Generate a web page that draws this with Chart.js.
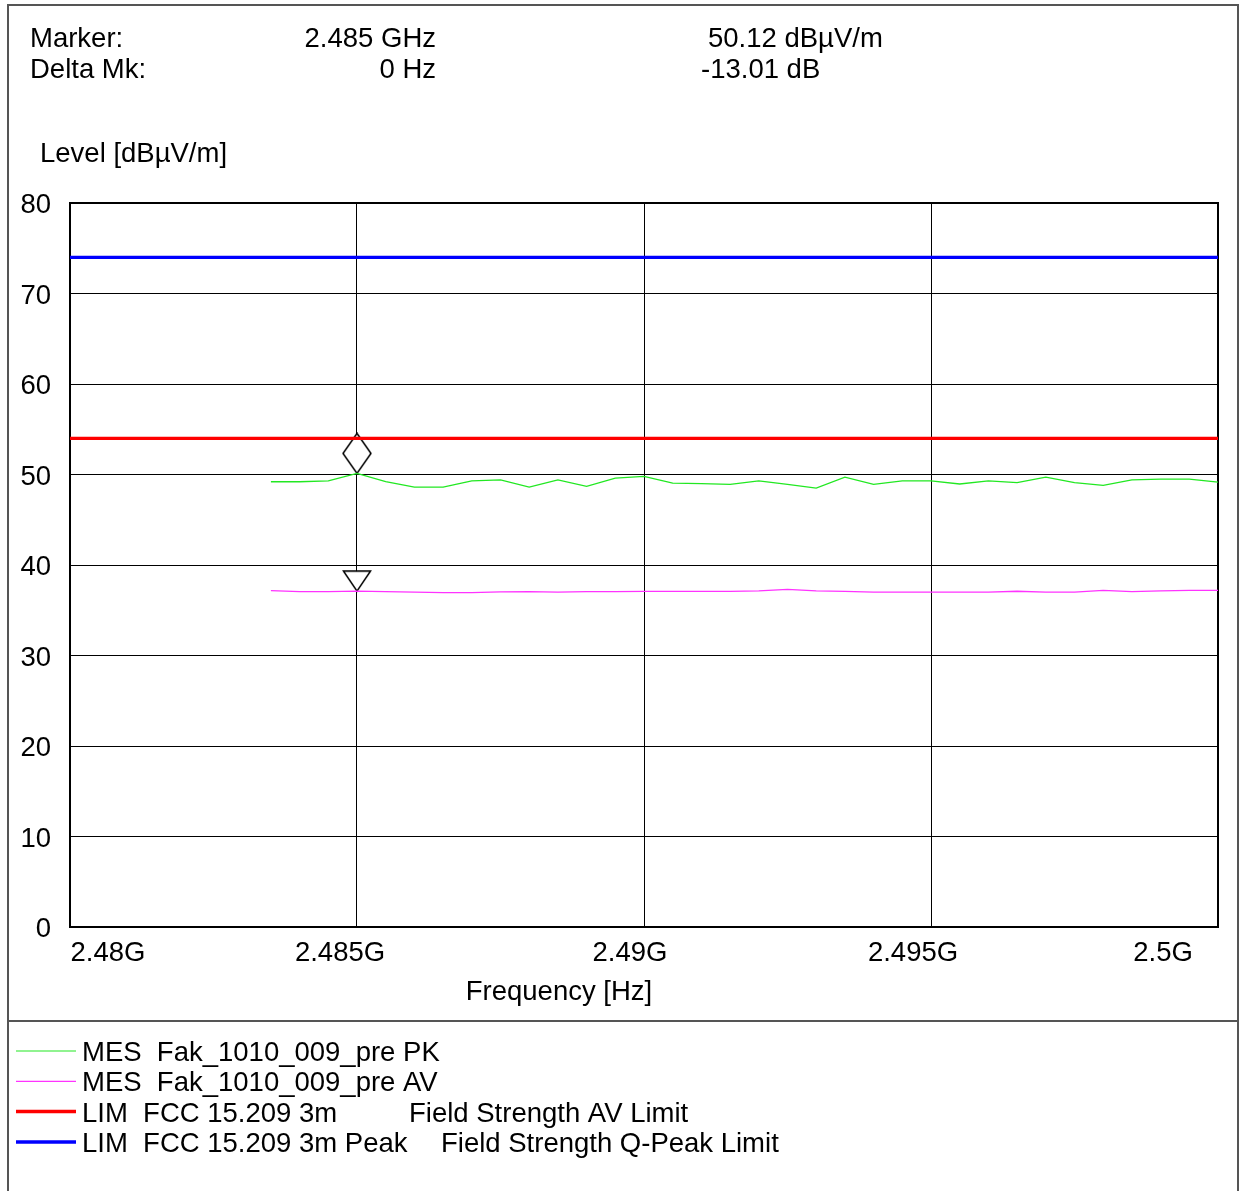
<!DOCTYPE html>
<html>
<head>
<meta charset="utf-8">
<script src="https://cdn.jsdelivr.net/npm/chart.js@4/dist/chart.umd.min.js"></script>
<style>
  html, body { margin: 0; padding: 0; background: #fff; }
  canvas { display: block; }
</style>
</head>
<body>
<canvas id="emc" width="1242" height="1191"></canvas>
<script>
// frequency points of the sweep (GHz)
const freqGHz = [2.4835, 2.484, 2.4845, 2.485, 2.4855, 2.486, 2.4865, 2.487, 2.4875, 2.488,
  2.4885, 2.489, 2.4895, 2.49, 2.4905, 2.491, 2.4915, 2.492, 2.4925, 2.493, 2.4935, 2.494,
  2.4945, 2.495, 2.4955, 2.496, 2.4965, 2.497, 2.4975, 2.498, 2.4985, 2.499, 2.4995, 2.5];
// MES peak trace (dBuV/m)
const pkLevel = [49.2, 49.2, 49.3, 50.12, 49.2, 48.6, 48.6, 49.3, 49.4, 48.6,
  49.4, 48.7, 49.6, 49.8, 49.05, 49.0, 48.9, 49.3, 48.9, 48.5, 49.7, 48.9,
  49.3, 49.3, 48.95, 49.3, 49.1, 49.7, 49.1, 48.8, 49.4, 49.5, 49.5, 49.15];
// MES average trace (dBuV/m)
const avLevel = [37.16, 37.05, 37.05, 37.11, 37.05, 37.0, 36.95, 36.95, 37.02, 37.06,
  37.0, 37.05, 37.05, 37.08, 37.08, 37.08, 37.08, 37.15, 37.3, 37.15, 37.08, 37.0,
  37.0, 37.0, 37.0, 37.0, 37.1, 37.0, 37.0, 37.2, 37.05, 37.15, 37.2, 37.2];

const limitFreq = [2.48, 2.5];
const avLimit = [54, 54];
const peakLimit = [74, 74];

const markerFreq = [2.485];
const markerPk = [50.12];
const markerAv = [37.11];

const xTicks = [2.48, 2.485, 2.49, 2.495, 2.5];
const xTickLabels = ['2.48G', '2.485G', '2.49G', '2.495G', '2.5G'];

const FONT = '"Liberation Sans", Arial, sans-serif';
const FS = 27.5;

const pts = (xs, ys) => xs.map((x, i) => ({ x, y: ys[i] }));

// marker glyphs: tip of the shape sits on the data point
function diamondGlyph() {
  const c = document.createElement('canvas');
  c.width = 30; c.height = 82;
  const g = c.getContext('2d');
  g.beginPath();
  g.moveTo(15, 1); g.lineTo(29, 21); g.lineTo(15, 41); g.lineTo(1, 21); g.closePath();
  g.fillStyle = '#fff'; g.fill();
  g.lineWidth = 1.5; g.strokeStyle = '#000'; g.stroke();
  return c;
}
function triangleGlyph() {
  const c = document.createElement('canvas');
  c.width = 30; c.height = 42;
  const g = c.getContext('2d');
  g.beginPath();
  g.moveTo(1.5, 1); g.lineTo(28.5, 1); g.lineTo(15, 21); g.closePath();
  g.fillStyle = '#fff'; g.fill();
  g.lineWidth = 1.5; g.strokeStyle = '#000'; g.stroke();
  return c;
}

const framePlugin = {
  id: 'frame',
  beforeDatasetsDraw(chart) {
    const { ctx, chartArea: a } = chart;
    ctx.save();
    ctx.strokeStyle = '#000';
    ctx.lineWidth = 2;
    ctx.strokeRect(a.left, a.top, a.right - a.left, a.bottom - a.top);
    ctx.restore();
  },
  afterDraw(chart) {
    const { ctx } = chart;
    const xs = chart.scales.x;
    ctx.save();
    // outer page frame
    ctx.strokeStyle = '#555';
    ctx.lineWidth = 2;
    ctx.beginPath();
    ctx.moveTo(8, 1191); ctx.lineTo(8, 5); ctx.lineTo(1238, 5); ctx.lineTo(1238, 1191);
    ctx.moveTo(8, 1021); ctx.lineTo(1238, 1021);
    ctx.stroke();

    ctx.fillStyle = '#000';
    ctx.font = FS + 'px ' + FONT;
    ctx.textBaseline = 'middle';

    // header
    ctx.textAlign = 'left';
    ctx.fillText('Marker:', 30, 39);
    ctx.fillText('Delta Mk:', 30, 70);
    ctx.fillText('50.12 dBµV/m', 708, 39);
    ctx.fillText('-13.01 dB', 701, 70);
    ctx.textAlign = 'right';
    ctx.fillText('2.485 GHz', 436, 39);
    ctx.fillText('0 Hz', 436, 70);

    // axis titles
    ctx.textAlign = 'left';
    ctx.fillText('Level [dBµV/m]', 40, 154);
    ctx.textAlign = 'center';
    ctx.fillText('Frequency [Hz]', 559, 992);

    // x tick labels (instrument style: edge labels pulled inward)
    const shift = [38, -17, -14, -18, -55];
    xTicks.forEach((v, i) => {
      ctx.fillText(xTickLabels[i], xs.getPixelForValue(v) + shift[i], 953);
    });

    // legend
    const rows = [
      { color: '#22e822', w: 1.2, parts: [['MES  Fak_1010_009_pre PK', 82]] },
      { color: '#ff33ff', w: 1.2, parts: [['MES  Fak_1010_009_pre AV', 82]] },
      { color: '#ff0000', w: 3.5, parts: [['LIM  FCC 15.209 3m', 82], ['Field Strength AV Limit', 409]] },
      { color: '#0000ff', w: 3.5, parts: [['LIM  FCC 15.209 3m Peak', 82], ['Field Strength Q-Peak Limit', 441]] }
    ];
    ctx.textAlign = 'left';
    rows.forEach((r, i) => {
      const y = 1052 + i * 30.3;
      ctx.strokeStyle = r.color;
      ctx.lineWidth = r.w;
      ctx.beginPath();
      ctx.moveTo(16, y - 1); ctx.lineTo(76, y - 1);
      ctx.stroke();
      r.parts.forEach(([t, x]) => ctx.fillText(t, x, y + 1.5));
    });
    ctx.restore();
  }
};

new Chart(document.getElementById('emc'), {
  type: 'line',
  data: {
    datasets: [
      { label: 'PK', data: pts(freqGHz, pkLevel), borderColor: '#22e822', borderWidth: 1.3, pointRadius: 0, tension: 0 },
      { label: 'AV', data: pts(freqGHz, avLevel), borderColor: '#ff33ff', borderWidth: 1.3, pointRadius: 0, tension: 0 },
      { label: 'AV limit', data: pts(limitFreq, avLimit), borderColor: '#ff0000', borderWidth: 3.2, pointRadius: 0 },
      { label: 'Peak limit', data: pts(limitFreq, peakLimit), borderColor: '#0000ff', borderWidth: 3.2, pointRadius: 0 },
      { label: 'Mk PK', data: pts(markerFreq, markerPk), showLine: false, pointStyle: diamondGlyph(), pointRadius: 5 },
      { label: 'Mk AV', data: pts(markerFreq, markerAv), showLine: false, pointStyle: triangleGlyph(), pointRadius: 5 }
    ]
  },
  options: {
    responsive: false,
    animation: false,
    events: [],
    layout: { padding: { top: 203, right: 24, left: 0, bottom: 0 } },
    plugins: { legend: { display: false }, tooltip: { enabled: false } },
    scales: {
      x: {
        type: 'linear',
        min: 2.48,
        max: 2.5,
        afterBuildTicks: s => { s.ticks = xTicks.map(v => ({ value: v })); },
        afterFit: s => { s.height = 264; },
        ticks: { display: false },
        grid: { color: '#000', lineWidth: 1, drawTicks: false },
        border: { display: false }
      },
      y: {
        min: 0,
        max: 80,
        afterFit: s => { s.width = 70; },
        ticks: { stepSize: 10, padding: 19, labelOffset: 2.5, color: '#000', font: { family: FONT, size: FS } },
        grid: { color: '#000', lineWidth: 1, drawTicks: false },
        border: { display: false }
      }
    }
  },
  plugins: [framePlugin]
});
</script>
</body>
</html>
